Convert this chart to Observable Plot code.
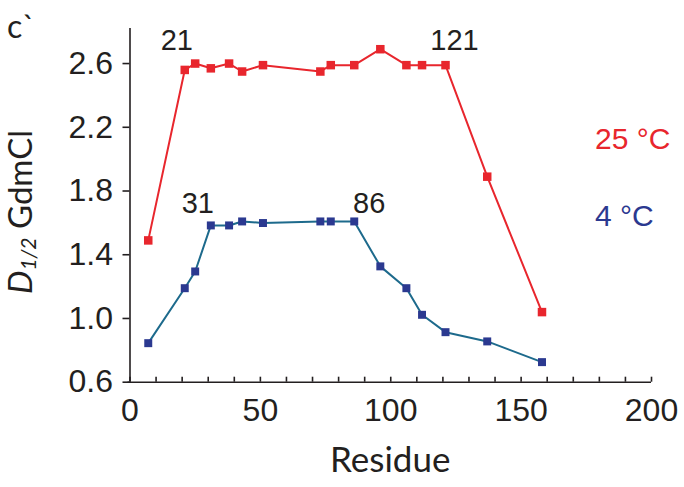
<!DOCTYPE html>
<html><head><meta charset="utf-8">
<script src="https://cdn.jsdelivr.net/npm/d3@7"></script>
<script src="https://cdn.jsdelivr.net/npm/@observablehq/plot@0.6"></script>
<style>
body{margin:0;background:#fff}
#chart{position:relative;width:684px;height:487px}
</style>
</head><body><div id="chart"></div>
<script>
// ---- data ----
const residues = [7, 21, 25, 31, 38, 43, 51, 73, 77, 86, 96, 106, 112, 121, 137, 158];
const d25 = [1.49, 2.56, 2.60, 2.57, 2.60, 2.55, 2.59, 2.55, 2.59, 2.59, 2.69, 2.59, 2.59, 2.59, 1.89, 1.04];
const d4  = [0.845, 1.19, 1.295, 1.584, 1.584, 1.609, 1.599, 1.609, 1.609, 1.609, 1.327, 1.19, 1.023, 0.914, 0.856, 0.726];
const seriesNames = ["25 °C", "4 °C"];
const peakLabels25 = [21, 121];
const peakLabels4 = [31, 86];
const yTicks = [0.6, 1.0, 1.4, 1.8, 2.2, 2.6];
const xTicks = [0, 50, 100, 150, 200];
const xMinorTicks = d3.range(0, 201, 10);
const xLabel = "Residue";
const panelLabel = "c`";

// ---- build ----
const rows25 = residues.map((r, i) => ({res: r, val: d25[i]}));
const rows4 = residues.map((r, i) => ({res: r, val: d4[i]}));
const RED = "#e8262d", NAVY = "#2b3990", TEAL = "#1d6a8c", INK = "#231f20";
const W = 684, H = 487, mT = 28, mB = 105.3, mL = 129.5, mR = 33;
const innerH = H - mT - mB;

function peak(rows, res, dx, dy) {
  return Plot.text([rows.find(d => d.res === res)], {
    x: "res", y: "val", text: d => String(d.res), dx, dy,
    lineAnchor: "bottom", fontSize: 29, fill: INK
  });
}

const chart = Plot.plot({
  width: W, height: H,
  marginTop: mT, marginBottom: mB, marginLeft: mL, marginRight: mR,
  x: {domain: [0, 200]},
  y: {domain: [0.6, 2.82]},
  style: {fontFamily: "'Liberation Sans', Arial, sans-serif", fontSize: "32px", color: INK, background: "white", overflow: "visible"},
  marks: [
    Plot.ruleX([0], {stroke: INK, strokeWidth: 1.6}),
    Plot.ruleY([0.6], {stroke: INK, strokeWidth: 1.6, insetLeft: -2}),
    Plot.axisY({ticks: yTicks, tickFormat: d3.format(".1f"), tickSize: 7, tickPadding: 10, label: null, fontSize: 32, strokeWidth: 1.6}),
    Plot.axisX({ticks: xTicks, tickSize: 0, tickPadding: 16, label: null, fontSize: 32}),
    Plot.tickX(xMinorTicks, {x: d => d, insetTop: innerH - 5, stroke: INK, strokeWidth: 1.6}),
    Plot.line(rows25, {x: "res", y: "val", stroke: RED, strokeWidth: 2}),
    Plot.dot(rows25, {x: "res", y: "val", symbol: "square", r: 4.8, fill: RED}),
    Plot.line(rows4, {x: "res", y: "val", stroke: TEAL, strokeWidth: 2}),
    Plot.dot(rows4, {x: "res", y: "val", symbol: "square", r: 4.5, fill: NAVY}),
    peak(rows25, peakLabels25[0], -8, -20),
    peak(rows25, peakLabels25[1], 9, -15),
    peak(rows4, peakLabels4[0], -13, -12),
    peak(rows4, peakLabels4[1], 15, -8),
    Plot.text([seriesNames[0]], {text: d => d, frameAnchor: "top-left", dx: 465, dy: 120, textAnchor: "start", lineAnchor: "bottom", fontSize: 30, fill: RED}),
    Plot.text([seriesNames[1]], {text: d => d, frameAnchor: "top-left", dx: 465, dy: 197, textAnchor: "start", lineAnchor: "bottom", fontSize: 30, fill: NAVY})
  ]
});
document.getElementById("chart").appendChild(chart);

// axis titles and panel label
const svg = d3.select(chart);
svg.append("text")
  .attr("x", (mL + W - mR) / 2).attr("y", 471.5)
  .attr("text-anchor", "middle")
  .attr("font-family", "Lato, 'Open Sans', sans-serif").attr("font-size", 35).attr("fill", INK)
  .text(xLabel);

const yl = svg.append("text")
  .attr("transform", "translate(32,212) rotate(-90)")
  .attr("text-anchor", "middle")
  .attr("font-family", "Lato, 'Open Sans', sans-serif").attr("font-size", 33).attr("fill", INK);
yl.append("tspan").attr("font-style", "italic").text("D");
yl.append("tspan").attr("font-style", "italic").attr("font-size", 21).attr("dy", 4).text("1/2");
yl.append("tspan").attr("dy", -4).text(" GdmCl");

svg.append("text")
  .attr("x", 7).attr("y", 38)
  .attr("text-anchor", "start")
  .attr("font-family", "Lato, 'Open Sans', sans-serif").attr("font-size", 32).attr("fill", INK)
  .text(panelLabel);
</script>
</body></html>
